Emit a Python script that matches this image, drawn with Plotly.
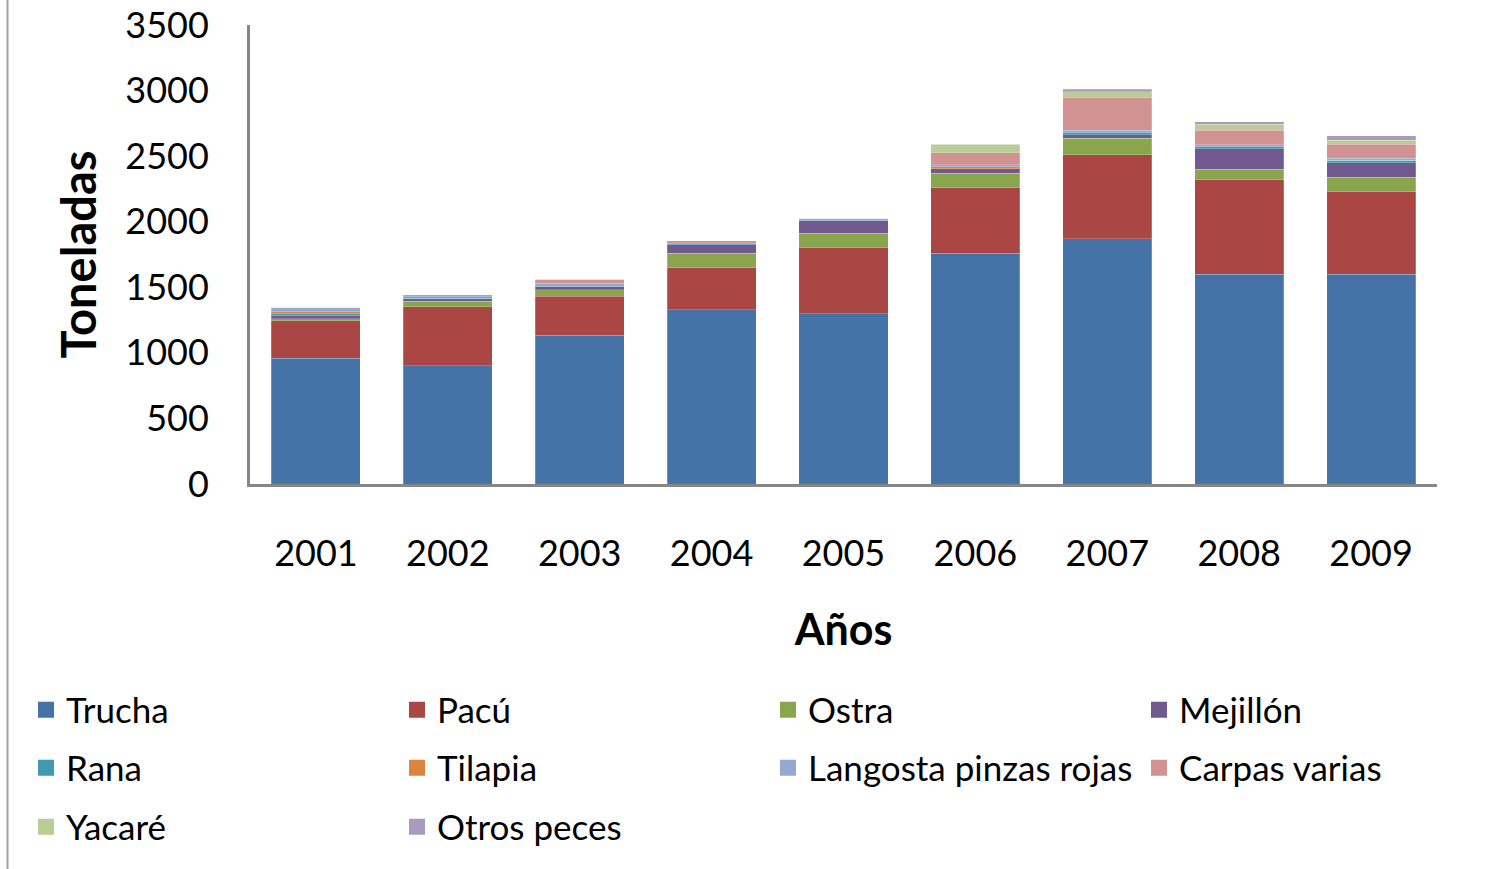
import plotly.graph_objects as go

years = ["2001", "2002", "2003", "2004", "2005", "2006", "2007", "2008", "2009"]

trucha   = [960, 900, 1135, 1330, 1300, 1760, 1870, 1600, 1600]
pacu     = [285, 450, 295, 320, 500, 500, 640, 720, 628]
ostra    = [15, 45, 50, 110, 112, 110, 125, 80, 112]
mejillon = [25, 18, 25, 63, 94, 33, 30, 155, 110]
rana     = [18, 5, 0, 10, 0, 0, 15, 15, 18]
tilapia  = [15, 8, 0, 0, 0, 15, 0, 0, 0]
langosta = [30, 17, 25, 0, 20, 18, 17, 18, 15]
carpas   = [0, 0, 30, 20, 0, 91, 250, 110, 107]
yacare   = [0, 0, 0, 0, 0, 64, 45, 46, 33]
otros    = [0, 0, 0, 0, 0, 0, 20, 19, 33]

series_names = ["Trucha", "Pacú", "Ostra", "Mejillón", "Rana", "Tilapia",
                "Langosta pinzas rojas", "Carpas varias", "Yacaré", "Otros peces"]
series_values = [trucha, pacu, ostra, mejillon, rana, tilapia, langosta, carpas, yacare, otros]
colors = ["#4572A7", "#AA4643", "#89A54E", "#71588F", "#4198AF", "#DB843D",
          "#93A9CF", "#D19392", "#B9CD96", "#A99BBD"]

# legend row assignment (4 columns x 3 rows like the original)
legend_ids = ["legend", "legend", "legend", "legend",
              "legend2", "legend2", "legend2", "legend2",
              "legend3", "legend3"]
legend_widths = [326, 326, 326, 200, 326, 326, 326, 220, 326, 240]

FONT = "Lato, 'Open Sans', sans-serif"

W, H = 1486, 869
L, R, T, B = 250, 49, 25, 869 - 484
pw, ph = W - L - R, H - T - B

def px_to_x(p):
    return (p - L) / pw

def py_to_y(p):
    return (H - B - p) / ph

fig = go.Figure()
for name, vals, col, lg, lw in zip(series_names, series_values, colors, legend_ids, legend_widths):
    fig.add_trace(go.Bar(
        name=name, x=years, y=vals, legendgroup=name, showlegend=False,
        marker=dict(color=col, line=dict(color="rgba(255,255,255,0.35)", width=0.6)),
    ))
    # legend-only entry (bigger square swatch like the original)
    fig.add_trace(go.Scatter(
        name=name, x=[None], y=[None], mode="markers", legendgroup=name,
        marker=dict(symbol="square", size=16, color=col),
        legend=lg, legendwidth=lw, hoverinfo="skip",
    ))

legend_common = dict(orientation="h", xanchor="left", yanchor="middle",
                     font=dict(family=FONT, size=35, color="#000000"),
                     bgcolor="rgba(0,0,0,0)", borderwidth=0,
                     traceorder="normal", itemwidth=30, itemsizing="trace")

fig.update_layout(
    width=W, height=H,
    barmode="stack",
    bargap=0.325,
    plot_bgcolor="white", paper_bgcolor="white",
    margin=dict(l=L, r=R, t=T, b=B, autoexpand=False),
    font=dict(family=FONT, color="#000000"),
    xaxis=dict(
        showline=True, linecolor="#868686", linewidth=3,
        ticks="", tickfont=dict(family=FONT, size=36, color="#000000"),
        ticklabelstandoff=36,
        title=dict(text="<b>Años</b>", font=dict(family=FONT, size=43, color="#000000"), standoff=42),
    ),
    yaxis=dict(
        range=[0, 3500], dtick=500, tick0=0,
        showline=True, linecolor="#868686", linewidth=3,
        showgrid=False, zeroline=False,
        ticks="", tickfont=dict(family=FONT, size=36, color="#000000"),
        ticklabelstandoff=31, ticklabeloverflow="allow",
        title=dict(text="<b>Toneladas</b>", font=dict(family=FONT, size=47, color="#000000"), standoff=14),
    ),
    legend=dict(x=px_to_x(26), y=py_to_y(710), **legend_common),
    legend2=dict(x=px_to_x(26), y=py_to_y(768), **legend_common),
    legend3=dict(x=px_to_x(26), y=py_to_y(827), **legend_common),
    shapes=[dict(type="line", xref="paper", yref="paper",
                 x0=px_to_x(7.5), x1=px_to_x(7.5), y0=py_to_y(0), y1=py_to_y(869),
                 line=dict(color="#A0A0A0", width=2))],
)

# remove the browser's default page margin so the figure fills the window exactly
fig.write_html("out.html",
               config={"displayModeBar": False},
               post_script="document.body.style.margin='0';document.body.style.overflow='hidden';")
